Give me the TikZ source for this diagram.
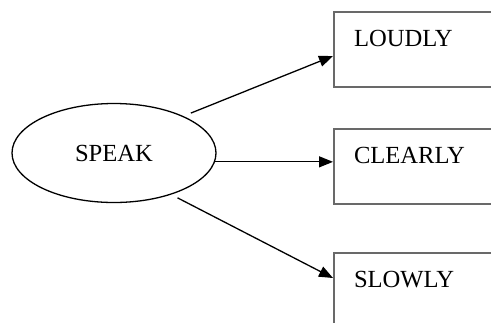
\documentclass[tikz,border=0pt]{standalone}
\usepackage{fontspec}
\setmainfont{Liberation Serif}
\usepackage{tikz}
\usetikzlibrary{shapes.geometric, arrows.meta, positioning}
\definecolor{boxgray}{RGB}{105,105,105}
\tikzset{
  verb/.style={ellipse, draw=black, line width=0.65pt, minimum width=102pt, minimum height=49.5pt, inner sep=0pt, font=\fontsize{12.3}{14}\selectfont},
  manner/.style={rectangle, draw=boxgray, line width=1pt, align=left, text width=80pt, inner xsep=10pt, inner ysep=2pt, text height=15pt, text depth=18.5pt, font=\fontsize{12.3}{14}\selectfont},
  arrow/.style={-{Triangle[length=7pt,width=5.5pt]}, line width=0.65pt},
}

\begin{document}
\begin{tikzpicture}
\useasboundingbox (0,0) rectangle (245.5pt,-161pt);
\clip (0,0) rectangle (245.5pt,-161pt);
\node (speak) [verb] at (57pt,-76.5pt) {SPEAK};
\node (loudly) [manner, anchor=north west] at (166.5pt,-5.5pt) {LOUDLY};
\node (clearly) [manner, below=20pt of loudly] {CLEARLY};
\node (slowly) [manner, below=23.5pt of clearly] {SLOWLY};
\draw[arrow, shorten <=4pt] (speak.28) -- ([yshift=-3.25pt]loudly.west);
\draw[arrow] (speak.-5) -- (speak.-5 -| clearly.west);
\draw[arrow, shorten <=3.5pt] (speak.-36) -- ([yshift=6.25pt]slowly.west);
\end{tikzpicture}
\end{document}
